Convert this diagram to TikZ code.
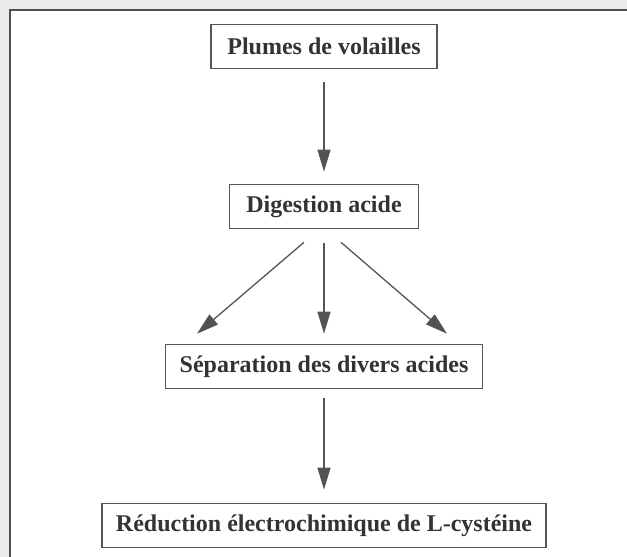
\documentclass[tikz,border=0pt]{standalone}
\usepackage{fontspec}
\setmainfont{Liberation Serif}
\usetikzlibrary{arrows.meta}
\definecolor{ink}{HTML}{333333}
\definecolor{edge}{HTML}{555555}
\definecolor{framec}{HTML}{505050}
\definecolor{scan}{HTML}{EBEBEB}
\tikzset{
  stepbox/.style={draw=edge, line width=1.6pt, fill=white, text=ink,
    minimum height=44pt, inner sep=0pt, align=center,
    font=\fontsize{24}{28}\selectfont\bfseries},
  arr/.style={draw=edge, line width=1.3pt,
    -{Triangle[length=22pt,width=13pt,fill=ink!85!white]}},
}
\begin{document}
\begin{tikzpicture}[x=1pt,y=-1pt]
\useasboundingbox (0,0) rectangle (627,557);
% scanned margin outside the frame
\fill[scan] (0,0) rectangle (627,9) (0,0) rectangle (9,557);
% outer frame (only top and left visible)
\draw[framec, line width=2pt] (10,557) -- (10,10) -- (627,10);

\node[stepbox, minimum width=226pt] (plumes) at (324,46.5) {Plumes de volailles};
\node[stepbox, minimum width=189pt] (dig) at (324,206.5) {Digestion acide};
\node[stepbox, minimum width=317pt] (sep) at (324,366.5) {Séparation des divers acides};
\node[stepbox, minimum width=444pt] (red) at (324,525.5) {Réduction électrochimique de L-cystéine};

\draw[arr, shorten <=13pt, shorten >=12pt] (plumes.south) -- (dig.north);

\coordinate (dl) at ([xshift=-20pt, yshift=-13pt]dig.south);
\coordinate (dr) at ([xshift=17pt, yshift=-13pt]dig.south);
\coordinate (tl) at ([xshift=-127pt, yshift=10pt]sep.north);
\coordinate (tr) at ([xshift=123pt, yshift=10pt]sep.north);
\draw[arr] (dl) -- (tl);
\draw[arr] (dr) -- (tr);
\draw[arr, shorten <=14pt, shorten >=10pt] (dig.south) -- (sep.north);

\draw[arr, shorten <=9pt, shorten >=13pt] (sep.south) -- (red.north);
\end{tikzpicture}
\end{document}
